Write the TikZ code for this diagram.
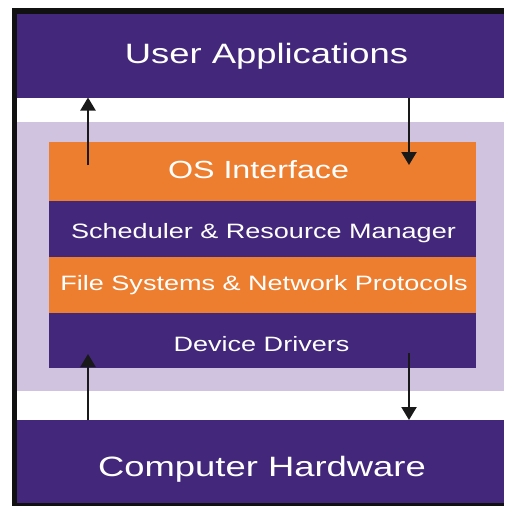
\documentclass[tikz,border=0pt]{standalone}
\usepackage{fontspec}
\usepackage{graphicx}
\setmainfont{Liberation Sans}
\usetikzlibrary{arrows.meta}
\definecolor{purp}{HTML}{42277A}
\definecolor{orng}{HTML}{EE7E2F}
\definecolor{lav}{HTML}{CFC3DF}
\definecolor{frame}{HTML}{111111}
\newcommand{\wide}[2][0pt]{\hspace*{#1}\scalebox{1.3}[1]{#2}}
\begin{document}
\begin{tikzpicture}[x=1pt,y=-1pt,
  box/.style={rectangle, inner sep=0pt, outer sep=0pt, draw=none, anchor=north west},
  band/.style={box, text=white, align=center},
  big/.style={font=\fontsize{28}{30}\selectfont},
  mid/.style={font=\fontsize{24.8}{27}\selectfont},
  small/.style={font=\fontsize{20.8}{23}\selectfont},
  arr/.style={draw=black!90, line width=2.2pt, -{Triangle[width=15pt,length=13pt]}},
]
\useasboundingbox (0,0) rectangle (504,506);
\fill[white] (0,0) rectangle (504,506);
\node[box, fill=frame, minimum width=492pt, minimum height=498pt] (fr) at (12,8) {};
\node[box, fill=white, minimum width=487pt, minimum height=489.3pt] (bg) at (17,14) {};
\node[box, fill=lav, minimum width=487pt, minimum height=269.3pt] (os) at (17,121.7) {};

\node[band, big, fill=purp, minimum width=487pt, minimum height=83.5pt, text height=14.5pt, text depth=0pt] (ua) at (17,14) {\wide[12pt]{User Applications}};
\node[band, mid, fill=orng, minimum width=426.4pt, minimum height=58.7pt, text height=14.5pt, text depth=0pt] (osi) at (49.3,142.3) {\wide[-8pt]{OS Interface}};
\node[band, small, fill=purp, minimum width=426.4pt, minimum height=55.8pt, text height=20.1pt, text depth=0pt] (sch) at (49.3,201) {\wide[2pt]{Scheduler \& Resource Manager}};
\node[band, small, fill=orng, minimum width=426.4pt, minimum height=55.7pt, text height=11.7pt, text depth=0pt] (fs) at (49.3,256.8) {\wide[3pt]{File Systems \& Network Protocols}};
\node[band, small, fill=purp, minimum width=426.4pt, minimum height=55.2pt, text height=23.7pt, text depth=0pt] (dd) at (49.3,312.5) {\wide[-2pt]{Device Drivers}};
\node[band, big, fill=purp, minimum width=487pt, minimum height=83.3pt, text height=29.8pt, text depth=0pt] (ch) at (17,420) {\wide[3pt]{Computer Hardware}};

\coordinate (a1) at (88,165);
\coordinate (a2) at (409,165);
\coordinate (a3) at (88,354);
\coordinate (a4) at (409,353);
\draw[arr] (a1) -- (a1 |- ua.south);
\draw[arr] (a2 |- ua.south) -- (a2);
\draw[arr] (a3 |- ch.north) -- (a3);
\draw[arr] (a4) -- (a4 |- ch.north);
\end{tikzpicture}
\end{document}
